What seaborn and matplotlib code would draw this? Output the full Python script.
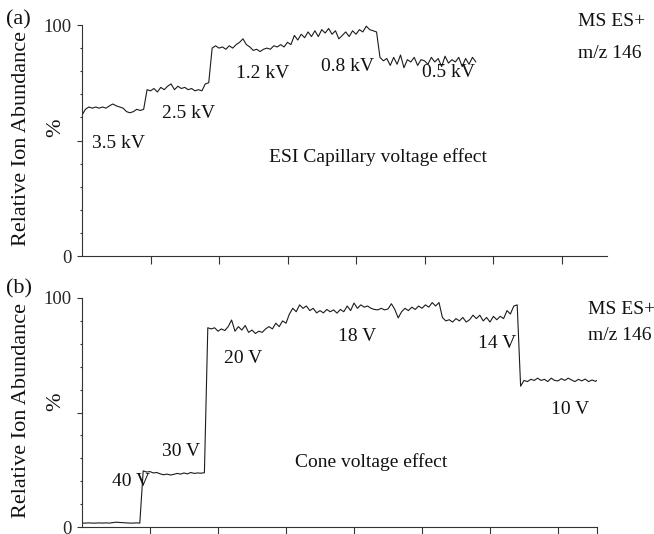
import numpy as np
import pandas as pd
import matplotlib
matplotlib.use("Agg")
import matplotlib.pyplot as plt
import seaborn as sns
from matplotlib.ticker import MultipleLocator, FixedLocator

# ---------------- data (relative ion abundance, %) ----------------
sample_step = 0.05  # time between samples (axis units)

# (a) ESI capillary voltage effect
cap_3_5kV = [61, 63.5, 64.5, 64, 64.5, 64, 64.5, 64, 65, 65.8, 65, 64.5, 64, 62.5, 62, 62.5, 63.5, 63, 63.5]
cap_2_5kV = [72, 71.5, 72.5, 71, 73, 72, 73.5, 74.5, 72, 73.5, 72.5, 73, 72, 72.5, 71.5, 72, 71.5, 74.5, 75]
cap_1_2_0_8kV = [90, 91, 90, 90.5, 89.5, 91, 90, 91.5, 92.5, 94, 91.5, 90.5, 89, 89.5, 88.5, 89.5, 90, 89.5,
                 91, 90.5, 91.5, 90.5, 92.5, 91.5, 95.5, 93.5, 96, 94.5, 97, 95, 97.5, 95, 98, 96.5, 98.5,
                 96, 97.5, 94, 95.5, 97, 95, 97.5, 96, 98, 97, 99.5, 98, 97.5, 97]
cap_0_5kV = [86, 84.5, 85.5, 82.5, 86, 83, 87, 81.5, 85, 84, 86, 82.5, 85, 84.5, 83, 86, 84, 85.5, 82,
             86.5, 83.5, 85, 84, 86, 82, 85.5, 83, 86, 84]

# (b) Cone voltage effect
cone_40V = [1.7, 1.7, 1.8, 1.7, 1.7, 1.8, 1.7, 1.8, 1.7, 1.9, 2.1, 2.0, 1.9, 1.8, 1.7, 1.7, 1.8, 1.7]
cone_30V = [24.5, 24, 24.2, 23.6, 23.8, 23.2, 22.8, 23.1, 22.7, 23, 23.4, 23.1, 23.6, 23.2, 23.8, 23.4,
            23.6, 23.5, 23.7]
cone_20_18V = [87, 86.5, 87, 85.5, 86.5, 85.8, 87.5, 90.4, 85.5, 87.5, 86, 88, 85, 86, 84.5, 85.5, 85,
               86.5, 87.5, 86.5, 89, 87.5, 90, 89, 93, 95.5, 94, 97, 95.5, 96.5, 94.5, 95.5, 93.5, 94.5,
               93.5, 95, 94, 94.8, 93.4, 95, 94, 96.5, 94.5, 97.8, 95.5, 97, 96, 96.5, 95.5, 95, 94.8,
               95.5, 94.8, 95.2, 97.5, 95, 91.3, 94, 95.5, 94.5, 96, 95, 96.5, 95.5, 97, 96, 98, 96.5, 98]
cone_14V = [91.5, 90, 90.5, 89.5, 91, 90, 91.5, 89.5, 90.5, 92.5, 91, 92.5, 90, 91.5, 89.5, 92, 90.5,
            92, 91, 94.5, 93, 96.5, 97]
cone_10V = [61.5, 64, 63.5, 64.5, 64, 65, 64, 64.5, 63.5, 65, 64, 63.8, 64.8, 64, 65, 64.2, 63.5, 64.5,
            63.8, 64.6, 63.5, 64.2, 63.6, 64.5]

cap_labels = ["3.5 kV", "2.5 kV", "1.2 kV", "0.8 kV", "0.5 kV"]
cone_labels = ["40 V", "30 V", "20 V", "18 V", "14 V", "10 V"]

# annotation placement (axis units)
cap_label_pos = [(0.54, 48.5), (1.55, 61.5), (2.64, 78.8), (3.88, 82.0), (5.35, 79.6)]
cone_label_pos = [(0.72, 19.7), (1.46, 33.0), (2.37, 73.4), (4.05, 83.0), (6.10, 80.3), (7.18, 51.5)]

cap_vals = cap_3_5kV + cap_2_5kV + cap_1_2_0_8kV + cap_0_5kV
cone_vals = cone_40V + cone_30V + cone_20_18V + cone_14V + cone_10V

df_cap = pd.DataFrame({"time": np.arange(len(cap_vals)) * sample_step, "abundance": cap_vals})
df_cone = pd.DataFrame({"time": np.arange(len(cone_vals)) * sample_step, "abundance": cone_vals})

# ---------------- styling ----------------
sns.set_theme(style="ticks")
plt.rcParams["font.family"] = ["Liberation Serif", "DejaVu Serif"]
plt.rcParams["axes.linewidth"] = 0.8

W, H = 654, 534
fig = plt.figure(figsize=(W / 100, H / 100), dpi=100)
fig.patch.set_facecolor("white")

def px_rect(x0, y_top, x1, y_bot):
    return [x0 / W, 1 - y_bot / H, (x1 - x0) / W, (y_bot - y_top) / H]

ax1 = fig.add_axes(px_rect(82, 25, 607, 256))
ax2 = fig.add_axes(px_rect(82, 298, 597, 527))

line_col = "#1c1c1c"
sns.lineplot(data=df_cap, x="time", y="abundance", ax=ax1, color=line_col, linewidth=0.8)
sns.lineplot(data=df_cone, x="time", y="abundance", ax=ax2, color=line_col, linewidth=0.8)

xlims = [(0, 525 / 68.5), (0, 515 / 68.0)]
for ax, xl in zip([ax1, ax2], xlims):
    ax.set_facecolor("white")
    ax.set_xlim(*xl)
    ax.set_ylim(0, 100)
    for s in ["top", "right"]:
        ax.spines[s].set_visible(False)
    for s in ["left", "bottom"]:
        ax.spines[s].set_color("#333333")
    ax.set_xlabel("")
    ax.set_ylabel("")
    ax.set_yticks([0, 50, 100])
    ax.set_yticklabels(["0", "", "100"])
    ax.yaxis.set_minor_locator(MultipleLocator(10))
    ax.tick_params(axis="y", which="major", direction="out", length=3.3, width=0.8,
                   labelsize=13.5, pad=4, color="#333333")
    ax.tick_params(axis="y", which="minor", direction="out", length=1.8, width=0.8, color="#333333")
    ax.tick_params(axis="x", which="major", direction="out", length=5.5, width=0.8,
                   labelbottom=False, color="#333333")

ax1.set_xticks([1, 2, 3, 4, 5, 6, 7])
ax2.xaxis.set_major_locator(FixedLocator([1, 2, 3, 4, 5, 6, 7, xlims[1][1]]))

fs = 14
for lab, (x, y) in zip(cap_labels, cap_label_pos):
    ax1.text(x, y, lab, ha="center", va="center", fontsize=fs, color="#111111")
for lab, (x, y) in zip(cone_labels, cone_label_pos):
    ax2.text(x, y, lab, ha="center", va="center", fontsize=fs, color="#111111")

ax1.text(4.32, 43, "ESI Capillary voltage effect", ha="center", va="center", fontsize=fs, color="#111111")
ax2.text(4.26, 28.4, "Cone voltage effect", ha="center", va="center", fontsize=fs, color="#111111")

def ftext(xp, yp, s, **kw):
    fig.text(xp / W, 1 - yp / H, s, **kw)

ftext(578, 21, "MS ES+", ha="left", va="center", fontsize=fs, color="#111111")
ftext(578, 53, "m/z 146", ha="left", va="center", fontsize=fs, color="#111111")
ftext(588, 310, "MS ES+", ha="left", va="center", fontsize=fs, color="#111111")
ftext(588, 335, "m/z 146", ha="left", va="center", fontsize=fs, color="#111111")

ftext(6, 20, "(a)", ha="left", va="center", fontsize=16, color="#111111")
ftext(6, 289, "(b)", ha="left", va="center", fontsize=16, color="#111111")

ftext(22, 138, "Relative Ion Abundance", ha="center", va="center", rotation=90, fontsize=16, color="#111111")
ftext(56, 128, "%", ha="center", va="center", rotation=90, fontsize=16, color="#111111")
ftext(22, 410, "Relative Ion Abundance", ha="center", va="center", rotation=90, fontsize=16, color="#111111")
ftext(56, 402, "%", ha="center", va="center", rotation=90, fontsize=16, color="#111111")

fig.savefig("out.png", dpi=100, facecolor="white")
